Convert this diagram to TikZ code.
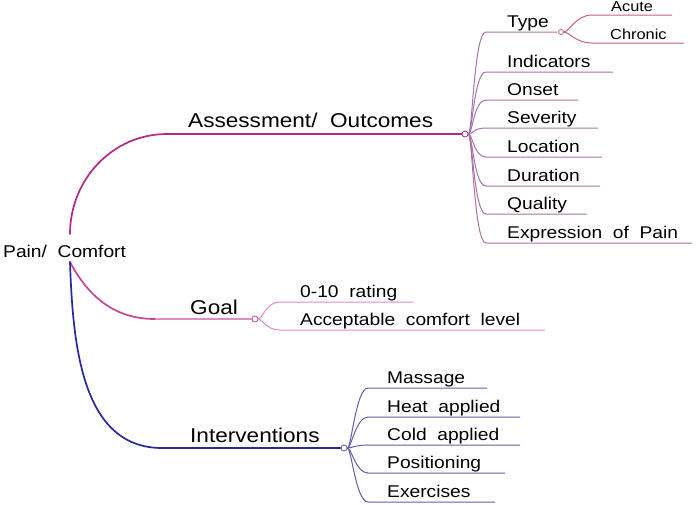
\documentclass[tikz,border=0pt]{standalone}
\usepackage{fontspec}
\setmainfont{Liberation Sans}[FakeStretch=1.13, WordSpace=2.0]
\definecolor{asscol}{RGB}{180,40,135}
\definecolor{asslight}{RGB}{165,115,165}
\definecolor{typecol}{RGB}{200,90,140}
\definecolor{goalcol}{RGB}{195,70,150}
\definecolor{goallight}{RGB}{220,140,195}
\definecolor{intcol}{RGB}{40,40,160}
\definecolor{intlight}{RGB}{95,95,165}
\begin{document}
\begin{tikzpicture}[x=1pt, y=-1pt,
    rootlbl/.style={anchor=base west, inner sep=0pt, font=\fontsize{17}{20}\selectfont},
    mainlbl/.style={anchor=base west, inner sep=0pt, font=\fontsize{20}{24}\selectfont},
    leaflbl/.style={anchor=base west, inner sep=0pt, font=\fontsize{17}{20}\selectfont},
    smalllbl/.style={anchor=base west, inner sep=0pt, font=\fontsize{14.5}{17}\selectfont},
    junc/.style={circle, draw, fill=white, inner sep=0pt, minimum size=6pt, line width=0.8pt},
    branch/.style={line width=1.7pt, line cap=round},
    leafline/.style={line width=1pt}]
    \useasboundingbox (0,0) rectangle (696,504);

    % Root
    \node[rootlbl] (root) at (3,257) {Pain/ Comfort};
    \coordinate (rtop) at (70,234); % top of root, branch upwards
    \coordinate (rbot) at (70,262); % bottom of root, branches downwards

    % Assessment/ Outcomes branch
    \coordinate (assA) at (167,134);
    \node[junc, draw=asscol] (jA) at (465,134) {};
    \node[mainlbl] (assess) at (188,127) {Assessment/ Outcomes};
    \draw[branch, asscol] (rtop) to[out=90, in=180] (assA) -- (jA);

    % Assessment children (line start, line end)
    \coordinate (type-s) at (486,32);  \coordinate (type-e) at (557,32);
    \coordinate (ind-s) at (486,72);   \coordinate (ind-e) at (613,72);
    \coordinate (ons-s) at (486,100);  \coordinate (ons-e) at (578,100);
    \coordinate (sev-s) at (486,128);  \coordinate (sev-e) at (598,128);
    \coordinate (loc-s) at (486,157);  \coordinate (loc-e) at (602,157);
    \coordinate (dur-s) at (486,186);  \coordinate (dur-e) at (600,186);
    \coordinate (qua-s) at (486,214);  \coordinate (qua-e) at (587,214);
    \coordinate (exp-s) at (486,243);  \coordinate (exp-e) at (692,243);

    \node[leaflbl] (type) at (507,27) {Type};
    \node[leaflbl] (ind) at (507,67) {Indicators};
    \node[leaflbl] (ons) at (507,95) {Onset};
    \node[leaflbl] (sev) at (507,123) {Severity};
    \node[leaflbl] (loc) at (507,152) {Location};
    \node[leaflbl] (dur) at (507,181) {Duration};
    \node[leaflbl] (qua) at (507,209) {Quality};
    \node[leaflbl] (exp) at (507,238) {Expression of Pain};

    \draw[leafline, asslight] (jA.east) .. controls +(4,0) and +(-12,0) .. (type-s) -- (type-e);
    \draw[leafline, asslight] (jA.east) .. controls +(4,0) and +(-12,0) .. (ind-s) -- (ind-e);
    \draw[leafline, asslight] (jA.east) .. controls +(4,0) and +(-12,0) .. (ons-s) -- (ons-e);
    \draw[leafline, asslight] (jA.east) .. controls +(4,0) and +(-12,0) .. (sev-s) -- (sev-e);
    \draw[leafline, asslight] (jA.east) .. controls +(4,0) and +(-12,0) .. (loc-s) -- (loc-e);
    \draw[leafline, asslight] (jA.east) .. controls +(4,0) and +(-12,0) .. (dur-s) -- (dur-e);
    \draw[leafline, asslight] (jA.east) .. controls +(4,0) and +(-12,0) .. (qua-s) -- (qua-e);
    \draw[leafline, asslight] (jA.east) .. controls +(4,0) and +(-12,0) .. (exp-s) -- (exp-e);

    % Type: Acute / Chronic
    \node[junc, draw=typecol, minimum size=5pt] (jT) at (561,32) {};
    \coordinate (acu-s) at (592,15);  \coordinate (acu-e) at (672,15);
    \coordinate (chr-s) at (592,43);  \coordinate (chr-e) at (684,43);
    \node[smalllbl] (acu) at (611,11) {Acute};
    \node[smalllbl] (chr) at (610,39) {Chronic};
    \draw[leafline, typecol] (jT.east) .. controls +(5,0) and +(-16,0) .. (acu-s) -- (acu-e);
    \draw[leafline, typecol] (jT.east) .. controls +(5,0) and +(-16,0) .. (chr-s) -- (chr-e);

    % Goal branch
    \coordinate (goalA) at (155,319);
    \node[junc, draw=goalcol] (jG) at (255,319) {};
    \node[mainlbl] (goal) at (190,314) {Goal};
    \draw[branch, goalcol] (rbot) to[out=-62, in=180] (goalA);
    \draw[leafline, goallight, line width=1.4pt] (goalA) -- (jG);

    \coordinate (rat-s) at (280,302);  \coordinate (rat-e) at (413,302);
    \coordinate (acc-s) at (280,330);  \coordinate (acc-e) at (545,330);
    \node[leaflbl] (rat) at (300,297) {0-10 rating};
    \node[leaflbl] (acc) at (300,325) {Acceptable comfort level};
    \draw[leafline, goallight] (jG.east) .. controls +(4,0) and +(-14,0) .. (rat-s) -- (rat-e);
    \draw[leafline, goallight] (jG.east) .. controls +(4,0) and +(-14,0) .. (acc-s) -- (acc-e);

    % Interventions branch
    \coordinate (intA) at (162,448);
    \node[junc, draw=intlight] (jI) at (344,448) {};
    \node[mainlbl] (interv) at (190,442) {Interventions};
    \draw[branch, intcol] (rbot) to[out=-88, in=180] (intA) -- (jI);

    \coordinate (mas-s) at (368,388);  \coordinate (mas-e) at (487,388);
    \coordinate (hea-s) at (368,417);  \coordinate (hea-e) at (520,417);
    \coordinate (col-s) at (368,445);  \coordinate (col-e) at (520,445);
    \coordinate (pos-s) at (368,473);  \coordinate (pos-e) at (505,473);
    \coordinate (exe-s) at (368,502);  \coordinate (exe-e) at (495,502);
    \node[leaflbl] (mas) at (387,383) {Massage};
    \node[leaflbl] (hea) at (387,412) {Heat applied};
    \node[leaflbl] (col) at (387,440) {Cold applied};
    \node[leaflbl] (pos) at (387,468) {Positioning};
    \node[leaflbl] (exe) at (387,497) {Exercises};
    \draw[leafline, intlight] (jI.east) .. controls +(4,0) and +(-12,0) .. (mas-s) -- (mas-e);
    \draw[leafline, intlight] (jI.east) .. controls +(4,0) and +(-12,0) .. (hea-s) -- (hea-e);
    \draw[leafline, intlight] (jI.east) .. controls +(4,0) and +(-12,0) .. (col-s) -- (col-e);
    \draw[leafline, intlight] (jI.east) .. controls +(4,0) and +(-12,0) .. (pos-s) -- (pos-e);
    \draw[leafline, intlight] (jI.east) .. controls +(4,0) and +(-12,0) .. (exe-s) -- (exe-e);
\end{tikzpicture}
\end{document}
